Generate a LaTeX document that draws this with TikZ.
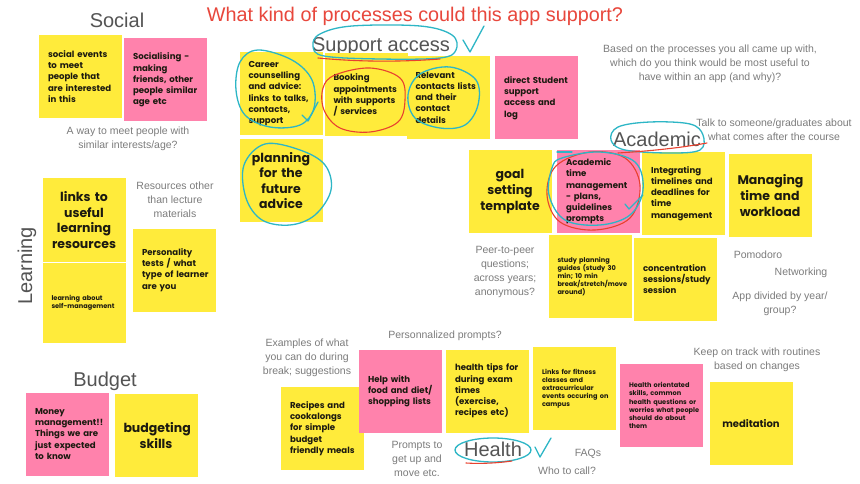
\documentclass[tikz,border=0pt]{standalone}
\usepackage{fontspec}
\setmainfont{Liberation Sans}
\newfontfamily\notefont{Poppins}
\definecolor{ynote}{HTML}{FFEB3B}
\definecolor{pnote}{HTML}{FF82AC}
\definecolor{notetext}{HTML}{1C1A10}
\definecolor{graytext}{HTML}{7C7C7C}
\definecolor{headtext}{HTML}{545454}
\definecolor{titlered}{HTML}{E8473C}
\definecolor{penblue}{HTML}{2DB6C6}
\definecolor{penred}{HTML}{E8412F}
\newcommand\nb[1]{\mbox{#1}}
\tikzset{
  note/.style={rectangle, minimum width=83pt, minimum height=83pt, inner sep=0pt,
    text width=65pt, align=left, text=notetext,
    font=\notefont\bfseries\fontsize{8.6}{11.2}\selectfont},
  ynt/.style={note, fill=ynote},
  pnt/.style={note, fill=pnote},
  bignote/.style={align=center, font=\notefont\bfseries\fontsize{12.5}{15.6}\selectfont},
  smallnote/.style={font=\notefont\bfseries\fontsize{6.6}{8.1}\selectfont},
  gtext/.style={text=graytext, align=center, inner sep=0pt, font=\fontsize{10.5}{14}\selectfont},
  head/.style={text=headtext, inner sep=0pt, font=\fontsize{20}{22}\selectfont},
  bpen/.style={draw=penblue, line width=1.3pt, line cap=round, line join=round},
  rpen/.style={draw=penred, line width=1.1pt, line cap=round, line join=round},
}
\begin{document}
\begin{tikzpicture}[x=1pt, y=-1pt]
\useasboundingbox (0,0) rectangle (860,484);
\fill[white] (0,0) rectangle (860,484);

% title
\node[text=titlered, inner sep=0pt, font=\fontsize{19.8}{22}\selectfont] (title) at (415,16) {What kind of processes could this app support?};

% headers
\node[head] (hsocial) at (117,20) {Social};
\node[head, rotate=90] (hlearn) at (27,266) {Learning};
\node[head] (hbudget) at (105,381) {Budget};
\node[head] (hsupport) at (381,47) {Support access};
\node[head] (hacad) at (657,139) {Academic};
\node[head] (hhealth) at (493,449) {Health};

% Social
\node[ynt] (n1) at (80.5,76.5) {social events\\to meet\\people that\\\nb{are interested}\\in this};
\node[pnt] (n2) at (165.5,80) {Socialising -\\making\\\nb{friends, other}\\\nb{people similar}\\age etc};
\node[gtext] (g1) at (128,139) {A way to meet people with\\similar interests/age?};

% Learning
\node[ynt, bignote] (n3) at (84,220) {links to\\useful\\learning\\resources};
\node[ynt, smallnote, minimum height=80pt] (n4) at (84,303) {learning about\\\nb{self-management}};
\node[ynt] (n5) at (174.5,270) {Personality\\tests / what\\\nb{type of learner}\\are you};
\node[gtext] (g2) at (175,200) {Resources other\\than lecture\\materials};

% Budget
\node[pnt] (n6) at (67.5,434) {Money\\\nb{management!!}\\\nb{Things we are}\\\nb{just expected}\\to know};
\node[ynt, bignote] (n7) at (156,435.5) {budgeting\\skills};

% Support access
\node[ynt] (n8) at (281,93.5) {Career\\counselling\\and advice:\\\nb{links to talks,}\\contacts,\\support};
\node[ynt] (n9) at (366,95) {Booking\\\nb{appointments}\\\nb{with supports}\\{}/ services};
\node[ynt] (n10) at (448,97.5) {Relevant\\\nb{contacts lists}\\and their\\contact\\details};
\node[pnt] (n11) at (536.5,98) {\nb{direct Student}\\support\\access and\\log};
\node[ynt, bignote] (n12) at (281,180.5) {planning\\for the\\future\\advice};

% right question
\node[gtext] (g3) at (710,64) {Based on the processes you all came up with,\\which do you think would be most useful to\\have within an app (and why)?};
\node[gtext] (g4) at (774,130) {Talk to someone/graduates about\\what comes after the course};

% Academic
\node[ynt, bignote] (n13) at (510,191.5) {goal\\setting\\template};
\node[pnt] (n14) at (598.5,191.5) {Academic\\time\\\nb{management}\\{}- plans,\\guidelines\\prompts};
\node[ynt] (n15) at (683.5,193.5) {Integrating\\\nb{timelines and}\\\nb{deadlines for}\\time\\\nb{management}};
\node[ynt, bignote] (n16) at (770,195.5) {Managing\\time and\\workload};
\node[ynt, smallnote] (n17) at (590,276.5) {study planning\\\nb{guides (study 30}\\min; 10 min\\\nb{break/stretch/move}\\around)};
\node[ynt] (n18) at (675.5,279) {\nb{concentration}\\\nb{sessions/study}\\session};
\node[gtext] (g5) at (505,272) {Peer-to-peer\\questions;\\across years;\\anonymous?};
\node[gtext] (g6) at (758,255) {Pomodoro};
\node[gtext] (g7) at (801,273) {Networking};
\node[gtext] (g8) at (780,304) {App divided by year/\\group?};

% Health
\node[gtext] (g9) at (307,358) {Examples of what\\you can do during\\break; suggestions};
\node[gtext] (g10) at (445,336) {Personnalized prompts?};
\node[ynt] (n20) at (322.5,428.5) {Recipes and\\cookalongs\\for simple\\budget\\\nb{friendly meals}};
\node[pnt] (n19) at (400.5,391) {Help with\\\nb{food and diet/}\\\nb{shopping lists}};
\node[ynt] (n21) at (487.5,391) {\nb{health tips for}\\during exam\\times\\(exercise,\\recipes etc)};
\node[ynt, smallnote] (n22) at (574.5,388.5) {Links for fitness\\classes and\\\nb{extracurricular}\\\nb{events occuring on}\\campus};
\node[pnt, smallnote] (n23) at (661.5,405.5) {\nb{Health orientated}\\skills, common\\\nb{health questions or}\\\nb{worries what people}\\should do about\\them};
\node[ynt, align=center, font=\notefont\bfseries\fontsize{10}{12}\selectfont] (n24) at (751,423.5) {meditation};
\node[gtext] (g11) at (417,459) {Prompts to\\get up and\\move etc.};
\node[gtext] (g12) at (757,360) {Keep on track with routines\\based on changes};
\node[gtext] (g13) at (588,454) {FAQs};
\node[gtext] (g14) at (567,471) {Who to call?};

% pen marks: Support access
\draw[bpen] plot[smooth cycle, tension=0.6] coordinates {(320,34) (352,26) (420,26) (452,35) (456,50) (440,58) (380,59) (324,56) (313,46)};
\draw[rpen] (318,58) .. controls (360,62) and (400,62) .. (440,59);
\draw[bpen] (463,40) -- (470,52) -- (484,26);

\draw[bpen] plot[smooth cycle, tension=0.6] coordinates {(258,50) (292,60) (312,80) (314,108) (300,125) (270,127) (245,115) (236,90) (240,62)};
\draw[bpen] (302,115) -- (308,121) -- (318,102);
\draw[rpen] plot[smooth cycle, tension=0.6] coordinates {(335,75) (370,68) (400,78) (405,100) (398,122) (370,132) (340,128) (324,110) (323,88)};
\draw[bpen] plot[smooth cycle, tension=0.6] coordinates {(420,74) (450,67) (476,80) (478,105) (465,125) (440,128) (415,118) (408,95)};
\draw[bpen] plot[smooth cycle, tension=0.6] coordinates {(265,144) (300,150) (325,165) (331,190) (315,215) (290,225) (262,220) (246,198) (244,165)};

% Academic marks
\draw[bpen] plot[smooth cycle, tension=0.6] coordinates {(618,127) (650,122) (690,124) (703,135) (700,150) (670,153) (625,150) (611,140)};
\draw[rpen] (618,153) .. controls (650,151) and (680,148) .. (707,143);
\draw[rpen] plot[smooth cycle, tension=0.6] coordinates {(556,166) (590,152) (625,158) (640,185) (630,218) (595,230) (560,222) (547,195)};
\draw[bpen] plot[smooth cycle, tension=0.6] coordinates {(562,158) (600,152) (635,162) (643,190) (630,215) (600,225) (565,220) (549,195) (552,168)};
\draw[bpen] (557,152) -- (572,152);
\draw[bpen] (625,204) -- (629,209) -- (643,195);

% Health marks
\draw[bpen] (493,450) ellipse [x radius=38, y radius=12];
\draw[rpen] (466,463) .. controls (480,464) and (498,463) .. (512,461);
\draw[bpen] (535,447) -- (540,457) -- (551,438);
\end{tikzpicture}
\end{document}
